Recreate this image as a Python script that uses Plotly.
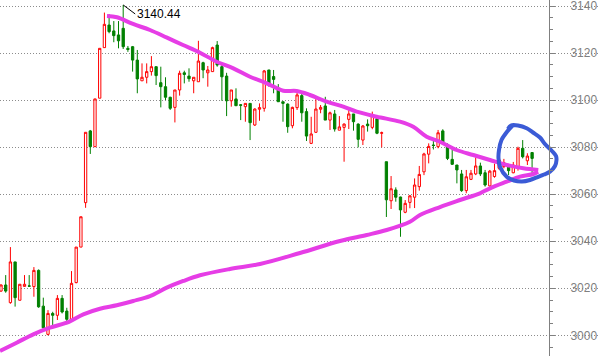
import plotly.graph_objects as go

# ---- candle data (index = trading session) ----
opens = [3018.8, 3021.4, 3013.9, 3031.2, 3014.9, 3020.8, 3021.0, 3020.7, 3027.6, 3012.4,
         3000.4, 3009.3, 3008.5, 3015.7, 3010.3, 3006.8, 3022.4, 3037.5, 3056.4, 3086.9,
         3080.2, 3100.8, 3122.3, 3131.9, 3129.4, 3127.7, 3130.5, 3122.0, 3122.7, 3117.0,
         3108.2, 3109.7, 3112.1, 3114.2, 3107.4, 3105.7, 3101.2, 3096.9, 3104.3, 3111.6,
         3110.2, 3108.2, 3107.8, 3115.9, 3111.6, 3112.1, 3123.4, 3114.2, 3110.2, 3099.7,
         3100.5, 3098.0, 3097.2, 3098.6, 3089.4, 3096.1, 3096.5, 3112.8, 3110.0, 3104.6,
         3099.3, 3098.3, 3089.1, 3096.8, 3101.9, 3095.1, 3081.6, 3086.3, 3096.1, 3097.5,
         3091.5, 3094.1, 3087.2, 3088.4, 3091.8, 3094.1, 3089.8, 3083.0, 3089.8, 3088.4,
         3092.1, 3085.9, 3073.8, 3057.2, 3061.8, 3058.8, 3052.3, 3056.5, 3058.7, 3063.2,
         3069.5, 3077.0, 3080.9, 3080.2, 3086.9, 3080.2, 3074.8, 3072.4, 3068.6, 3061.5,
         3066.3, 3068.6, 3072.0, 3069.1, 3063.5, 3067.5, 3071.0, 3071.7, 3072.0, 3069.1,
         3071.0, 3079.5, 3074.2, 3077.7]
highs = [3021.6, 3025.6, 3037.5, 3031.2, 3021.7, 3025.6, 3025.6, 3029.0, 3028.0, 3016.0,
         3010.7, 3010.0, 3017.1, 3017.1, 3011.7, 3027.3, 3037.5, 3050.4, 3086.3, 3087.3,
         3100.5, 3122.0, 3137.2, 3136.5, 3133.6, 3133.6, 3140.44, 3123.0, 3123.0, 3121.3,
         3115.6, 3115.6, 3118.7, 3114.2, 3114.2, 3109.7, 3101.4, 3104.3, 3112.5, 3112.5,
         3113.5, 3109.7, 3125.2, 3116.3, 3114.5, 3122.7, 3125.1, 3115.6, 3111.6, 3104.3,
         3105.0, 3098.3, 3098.6, 3098.6, 3096.5, 3098.6, 3112.8, 3112.8, 3112.8, 3106.8,
         3099.3, 3098.6, 3097.2, 3103.6, 3103.6, 3096.5, 3092.9, 3100.8, 3097.9, 3101.4,
         3095.1, 3095.8, 3093.2, 3090.1, 3096.5, 3094.1, 3090.1, 3089.4, 3091.8, 3095.1,
         3092.3, 3086.6, 3073.8, 3067.7, 3062.9, 3058.9, 3057.5, 3059.6, 3066.7, 3072.0,
         3077.6, 3081.6, 3083.0, 3087.3, 3087.6, 3081.6, 3079.5, 3072.4, 3070.3, 3070.3,
         3070.3, 3075.7, 3073.4, 3070.3, 3070.3, 3073.0, 3075.8, 3075.0, 3072.4, 3073.7,
         3080.2, 3083.0, 3077.4, 3077.7]
lows = [3018.5, 3018.1, 3013.4, 3012.2, 3014.9, 3020.8, 3020.8, 3016.4, 3011.7, 3001.4,
        3000.0, 3003.2, 3006.5, 3009.3, 3004.7, 3006.5, 3022.1, 3037.5, 3054.2, 3077.1,
        3080.2, 3100.8, 3122.3, 3128.4, 3124.6, 3122.0, 3121.7, 3120.5, 3112.1, 3102.9,
        3108.2, 3107.1, 3110.4, 3106.4, 3096.9, 3100.0, 3095.8, 3090.5, 3101.9, 3107.1,
        3107.8, 3102.9, 3107.8, 3109.3, 3105.7, 3112.1, 3114.2, 3099.7, 3093.2, 3097.2,
        3097.5, 3091.5, 3090.8, 3083.0, 3089.0, 3091.2, 3095.1, 3105.7, 3102.9, 3099.3,
        3090.8, 3086.1, 3088.0, 3095.8, 3090.8, 3082.6, 3081.3, 3086.1, 3094.4, 3091.5,
        3087.3, 3086.6, 3087.2, 3073.8, 3087.7, 3087.0, 3079.9, 3080.9, 3086.6, 3087.6,
        3085.5, 3079.9, 3050.3, 3053.7, 3056.8, 3041.9, 3051.9, 3054.0, 3054.1, 3061.5,
        3068.1, 3073.1, 3079.0, 3079.5, 3081.8, 3074.5, 3072.4, 3064.6, 3061.0, 3060.4,
        3066.0, 3068.1, 3067.7, 3063.2, 3063.2, 3067.0, 3070.3, 3071.0, 3068.1, 3068.9,
        3070.0, 3075.2, 3072.4, 3068.5]
closes = [3021.4, 3018.8, 3031.2, 3016.0, 3021.7, 3021.7, 3020.9, 3027.6, 3012.1, 3003.2,
          3009.3, 3008.5, 3015.7, 3009.9, 3006.8, 3022.1, 3037.5, 3050.4, 3086.3, 3080.2,
          3100.5, 3122.0, 3132.2, 3129.1, 3127.4, 3125.2, 3122.7, 3121.5, 3117.0, 3109.0,
          3109.7, 3112.1, 3114.2, 3110.4, 3105.7, 3101.2, 3096.5, 3104.3, 3111.4, 3110.9,
          3109.1, 3109.7, 3116.6, 3112.8, 3112.8, 3122.3, 3114.9, 3109.9, 3099.7, 3104.3,
          3097.6, 3097.8, 3098.6, 3090.4, 3096.2, 3096.8, 3112.4, 3107.0, 3108.8, 3099.3,
          3098.6, 3088.7, 3096.9, 3102.2, 3094.6, 3084.7, 3085.6, 3096.2, 3096.9, 3091.5,
          3094.6, 3087.7, 3088.6, 3089.8, 3094.1, 3090.8, 3083.3, 3089.0, 3089.1, 3093.7,
          3085.9, 3086.1, 3057.6, 3062.3, 3058.7, 3053.3, 3056.1, 3059.3, 3063.9, 3068.4,
          3077.1, 3080.3, 3080.7, 3086.1, 3082.2, 3075.2, 3072.7, 3070.3, 3061.5, 3067.4,
          3068.9, 3072.0, 3068.6, 3063.9, 3069.8, 3070.0, 3074.5, 3073.4, 3070.0, 3072.4,
          3079.5, 3075.9, 3076.2, 3075.2]
sessions = list(range(len(opens)))

# ---- hand-drawn annotation strokes (session index, price) ----
upper_x = [22.55, 24.68, 28.09, 31.70, 35.32, 38.72, 42.34, 45.89, 49.43, 52.98, 56.53, 60.06,
           62.91, 65.74, 69.30, 72.83, 75.68, 79.94, 84.89, 87.72, 90.57, 93.40, 96.96, 100.49,
           104.04, 107.60, 111.13, 114.32]
upper_y = [3135.75, 3135.20, 3132.35, 3129.80, 3126.53, 3123.42, 3120.15, 3116.32, 3113.51,
           3109.94, 3107.14, 3103.99, 3103.86, 3102.16, 3099.31, 3097.19, 3095.06, 3092.93,
           3090.81, 3088.68, 3084.43, 3082.30, 3078.78, 3076.65, 3074.52, 3072.40, 3071.00,
           3070.27]
lower_x = [-0.21, 3.34, 6.87, 10.43, 13.98, 17.51, 21.06, 24.62, 28.15, 31.70, 35.26, 38.79,
           42.34, 48.72, 55.11, 63.62, 72.13, 77.81, 82.06, 87.02, 89.15, 93.40, 97.66, 101.91,
           104.04, 107.60, 110.43, 113.26, 114.26]
lower_y = [2993.32, 2996.85, 3000.42, 3003.23, 3005.36, 3008.93, 3011.31, 3012.76, 3014.58,
           3016.70, 3020.24, 3023.09, 3025.51, 3028.19, 3030.31, 3034.99, 3040.09, 3042.64,
           3044.77, 3048.30, 3051.14, 3054.54, 3057.52, 3060.37, 3062.49, 3065.30, 3067.43,
           3068.57, 3069.55]
circle_x = [108.94, 107.66, 106.49, 105.96, 105.85, 106.17, 107.60, 109.15, 110.85, 112.55,
            114.04, 115.53, 116.81, 117.87, 118.19, 118.09, 117.23, 115.74, 114.68, 113.19,
            111.85, 110.00, 108.51, 107.87]
circle_y = [3089.40, 3086.56, 3083.03, 3078.78, 3075.37, 3071.68, 3067.42, 3065.81, 3065.38,
            3066.02, 3067.17, 3068.36, 3069.55, 3071.97, 3074.52, 3076.22, 3078.35, 3081.33,
            3084.09, 3086.22, 3088.00, 3089.19, 3089.19, 3087.70]

tick_vals = [3000, 3020, 3040, 3060, 3080, 3100, 3120, 3140]
tick_text = ["3000", "3020", "3040", "3060", "3080", "3100", "3120", "3140"]
high_label = "3140.44"
high_index = 26

fig = go.Figure()
fig.add_trace(go.Candlestick(
    x=sessions, open=opens, high=highs, low=lows, close=closes,
    increasing=dict(line=dict(color="#ff0000", width=1), fillcolor="#ffffff"),
    decreasing=dict(line=dict(color="#008000", width=1), fillcolor="#008000"),
    whiskerwidth=0, showlegend=False, hoverinfo="skip",
))
magenta = "#e63de6"
fig.add_trace(go.Scatter(x=upper_x, y=upper_y, mode="lines",
                         line=dict(color=magenta, width=4, shape="spline"),
                         showlegend=False, hoverinfo="skip"))
fig.add_trace(go.Scatter(x=lower_x, y=lower_y, mode="lines",
                         line=dict(color=magenta, width=4, shape="spline"),
                         showlegend=False, hoverinfo="skip"))
fig.add_trace(go.Scatter(x=circle_x, y=circle_y, mode="lines",
                         line=dict(color="#3b5bd6", width=4, shape="spline"),
                         showlegend=False, hoverinfo="skip"))

fig.add_annotation(x=high_index, y=highs[high_index], text=high_label,
                   showarrow=True, arrowhead=0, arrowwidth=1, arrowcolor="#000000",
                   ax=12, ay=9, xanchor="left", yanchor="middle",
                   font=dict(family="Liberation Sans, Arial", size=12, color="#000000"))

axis_pos = 549 / 600
fig.add_shape(type="rect", xref="paper", yref="paper", x0=axis_pos, x1=1, y0=0, y1=1,
              fillcolor="#ffffff", line=dict(width=0), layer="between")

fig.update_layout(
    width=600, height=356,
    margin=dict(l=0, r=0, t=0, b=0),
    paper_bgcolor="#ffffff", plot_bgcolor="#ffffff",
    boxgap=0.3,
    showlegend=False,
    font=dict(family="Liberation Sans, Arial", size=12, color="#808080"),
    xaxis=dict(domain=[0, 1], range=[-0.213, 127.45], visible=False,
               showgrid=False, zeroline=False, rangeslider=dict(visible=False)),
    yaxis=dict(anchor="free", position=axis_pos, side="right",
               range=[2991.2, 3142.55], tickvals=tick_vals, ticktext=tick_text,
               ticklabeloverflow="allow",
               showgrid=True, gridcolor="#8c8c8c", gridwidth=1, griddash="1px,2px",
               zeroline=False, showline=True, linecolor="#808080", linewidth=1,
               ticks="outside", ticklen=5, tickcolor="#808080", ticklabelstandoff=13,
               tickfont=dict(family="Liberation Sans, Arial", size=12, color="#808080"),
               minor=dict(dtick=5, tick0=3000, ticks="outside", ticklen=3,
                          tickcolor="#808080", showgrid=False)),
)

fig.write_html("out.html", config={"displayModeBar": False},
               post_script="document.body.style.margin='0';")
